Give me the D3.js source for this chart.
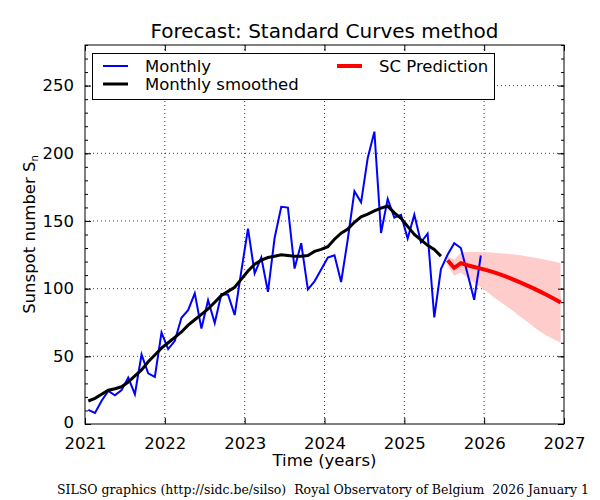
<!DOCTYPE html>
<html><head><meta charset="utf-8">
<script src="https://cdn.jsdelivr.net/npm/d3@7/dist/d3.min.js"></script>
<style>body{margin:0;background:#fff}svg{display:block}</style>
</head><body><svg id="c" width="600" height="500"></svg>
<script>
// ---- data ----
const title = "Forecast: Standard Curves method";
const xTicks = [2021, 2022, 2023, 2024, 2025, 2026, 2027];
const yTicks = [0, 50, 100, 150, 200, 250];
const monthlyStart = 2021;          // first month: January 2021
const monthly = [
  10.4, 8.2, 17.2, 24.5, 21.2, 25.0, 34.3, 22.0, 51.3, 37.4, 34.8, 67.5,
  55.3, 61.5, 78.5, 84.1, 96.5, 70.5, 91.4, 74.6, 96.0, 95.5, 80.5, 113.1,
  144.4, 111.3, 123.0, 97.6, 137.4, 160.5, 159.9, 114.8, 133.6, 99.4, 105.4, 114.2,
  123.0, 124.7, 104.9, 136.5, 172.0, 163.8, 196.6, 216.0, 141.1, 166.3, 152.5, 154.5,
  137.0, 154.6, 134.2, 140.6, 78.7, 114.4, 125.0, 133.6, 130.0, 111.0, 91.8, 124.5
];
const smoothedStart = 2021;
const smoothed = [
  17.0, 19.0, 22.0, 25.0, 26.0, 27.5, 31.0, 35.5, 40.0, 46.0, 51.0, 56.0,
  60.0, 64.0, 68.0, 73.0, 77.0, 81.0, 85.0, 90.0, 95.0, 98.0, 101.0, 107.0,
  113.0, 118.0, 121.0, 123.0, 124.0, 125.0, 124.5, 124.0, 124.0, 124.5, 127.5, 129.0,
  131.0, 136.5, 141.0, 144.0, 149.0, 153.0, 155.0, 157.5, 159.5, 161.0, 156.0, 152.0,
  146.0, 140.0, 136.0, 132.0, 129.0, 124.0
];
const predStart = 2025.5;           // first predicted month: July 2025
const prediction = [121.0, 115.3, 118.8, 117.3, 116.0, 114.8, 113.5, 112.0, 110.3,
  108.5, 106.5, 104.4, 102.2, 100.0, 97.6, 95.1, 92.5, 89.8];
const predUpper = [124.0, 121.5, 126.5, 127.0, 127.0, 127.0, 126.8, 126.5, 126.2,
  125.7, 125.2, 124.6, 123.8, 123.0, 122.0, 121.0, 120.0, 119.0];
const predLower = [117.0, 109.5, 112.0, 108.0, 104.5, 101.0, 97.5, 93.5, 90.0,
  86.5, 83.0, 79.0, 75.5, 71.5, 68.0, 65.0, 62.5, 60.0];
const legendItems = [
  {label: "Monthly", color: "#0000ff", width: 2},
  {label: "Monthly smoothed", color: "#000000", width: 3},
  {label: "SC Prediction", color: "#ff0000", width: 4}
];
const footer = "SILSO graphics (http://sidc.be/silso)  Royal Observatory of Belgium  2026 January 1";

// ---- layout ----
const svg = d3.select("#c");
const L = 85, R = 564, T = 45, B = 424;
const x = d3.scaleLinear().domain([2021, 2027]).range([L, R]);
const y = d3.scaleLinear().domain([0, 280]).range([B, T]);
const font = "DejaVu Sans, sans-serif";
const mdate = (start, i) => start + (i + 0.5) / 12;

svg.append("rect").attr("width", 600).attr("height", 500).attr("fill", "#fff");

// clip
svg.append("clipPath").attr("id", "clip").append("rect")
  .attr("x", L).attr("y", T).attr("width", R - L).attr("height", B - T);

// grid
const grid = svg.append("g").attr("stroke", "#000").attr("stroke-width", 0.9)
  .attr("stroke-dasharray", "1,3").attr("opacity", 0.85);
xTicks.slice(1, -1).forEach(v => grid.append("line")
  .attr("x1", x(v)).attr("x2", x(v)).attr("y1", T).attr("y2", B));
yTicks.slice(1).forEach(v => grid.append("line")
  .attr("x1", L).attr("x2", R).attr("y1", y(v)).attr("y2", y(v)));

const plot = svg.append("g").attr("clip-path", "url(#clip)");

// band
const band = d3.area()
  .x((d, i) => x(mdate(predStart, i)))
  .y0((d, i) => y(predLower[i]))
  .y1((d, i) => y(predUpper[i]));
plot.append("path").datum(predUpper).attr("d", band).attr("fill", "#ffcccc").attr("stroke", "none");

const line = start => d3.line().x((d, i) => x(mdate(start, i))).y(d => y(d));
plot.append("path").datum(monthly).attr("d", line(monthlyStart))
  .attr("fill", "none").attr("stroke", "#0000ff").attr("stroke-width", 2).attr("stroke-linejoin", "miter");
plot.append("path").datum(smoothed).attr("d", line(smoothedStart))
  .attr("fill", "none").attr("stroke", "#000").attr("stroke-width", 3);
plot.append("path").datum(prediction).attr("d", line(predStart))
  .attr("fill", "none").attr("stroke", "#ff0000").attr("stroke-width", 4);

// axes (inward ticks on all sides)
const fmt = d3.format("d");
function styleAxis(g) {
  g.selectAll("path.domain").remove();
  g.selectAll("line").attr("stroke", "#000");
}
const yMinor = d3.range(0, 281, 10);
svg.append("g").attr("transform", `translate(${L},0)`)
  .call(d3.axisLeft(y).tickValues(yMinor).tickSize(-3).tickFormat(""))
  .call(styleAxis);
svg.append("g").attr("transform", `translate(${R},0)`)
  .call(d3.axisRight(y).tickValues(yMinor).tickSize(-3).tickFormat(""))
  .call(styleAxis);
const yl = svg.append("g").attr("transform", `translate(${L},0)`)
  .call(d3.axisLeft(y).tickValues(yTicks).tickSize(-6).tickPadding(11).tickFormat(fmt))
  .call(styleAxis);
yl.selectAll("text").attr("font-family", font).attr("font-size", 16.5).attr("fill", "#000");
yl.selectAll(".tick").filter(d => d === 0).select("text").attr("dy", "0.2em");
svg.append("g").attr("transform", `translate(${R},0)`)
  .call(d3.axisRight(y).tickValues(yTicks).tickSize(-6).tickFormat(""))
  .call(styleAxis);
const xl = svg.append("g").attr("transform", `translate(0,${B})`)
  .call(d3.axisBottom(x).tickValues(xTicks).tickSize(-6).tickPadding(13).tickFormat(fmt))
  .call(styleAxis);
xl.selectAll("text").attr("font-family", font).attr("font-size", 16.5).attr("fill", "#000");
svg.append("g").attr("transform", `translate(0,${T})`)
  .call(d3.axisTop(x).tickValues(xTicks).tickSize(-6).tickFormat(""))
  .call(styleAxis);

// frame
svg.append("rect").attr("x", L).attr("y", T).attr("width", R - L).attr("height", B - T)
  .attr("fill", "none").attr("stroke", "#000").attr("stroke-width", 1);

// title & labels
svg.append("text").attr("x", (L + R) / 2).attr("y", 38).attr("text-anchor", "middle")
  .attr("font-family", font).attr("font-size", 20).text(title);
svg.append("text").attr("x", (L + R) / 2).attr("y", 466).attr("text-anchor", "middle")
  .attr("font-family", font).attr("font-size", 16.5).text("Time (years)");
const ylab = svg.append("text").attr("transform", `translate(35,${(T + B) / 2}) rotate(-90)`)
  .attr("text-anchor", "middle").attr("font-family", font).attr("font-size", 16.5);
ylab.append("tspan").text("Sunspot number S");
ylab.append("tspan").attr("font-size", 10).attr("dy", 3).text("n");

// legend
const lg = svg.append("g");
lg.append("rect").attr("x", 92.5).attr("y", 53.5).attr("width", 402).attr("height", 46)
  .attr("fill", "#fff").attr("stroke", "#000").attr("stroke-width", 1);
const lpos = [{x: 103, y: 66}, {x: 103, y: 84}, {x: 337, y: 66}];
legendItems.forEach((d, i) => {
  const p = lpos[i];
  lg.append("line").attr("x1", p.x).attr("x2", p.x + 25).attr("y1", p.y).attr("y2", p.y)
    .attr("stroke", d.color).attr("stroke-width", d.width);
  lg.append("text").attr("x", p.x + 42).attr("y", p.y + 6).attr("font-family", font)
    .attr("font-size", 16.5).text(d.label);
});

// footer
svg.append("text").attr("x", 323).attr("y", 494).attr("text-anchor", "middle")
  .style("white-space", "pre").attr("xml:space", "preserve")
  .attr("font-family", "DejaVu Serif, serif").attr("font-size", 12.5).text(footer);
</script></body></html>
